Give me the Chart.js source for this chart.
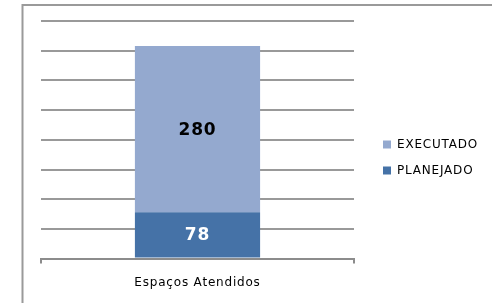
<!DOCTYPE html>
<html>
<head>
<meta charset="utf-8">
<script src="https://cdn.jsdelivr.net/npm/chart.js@4.4.0/dist/chart.umd.min.js"></script>
<style>
  html, body { margin: 0; padding: 0; background: #fff; overflow: hidden; }
  #wrap { width: 492px; height: 303px; position: relative; }
  canvas { display: block; }
</style>
</head>
<body>
<div id="wrap"><canvas id="chart"></canvas></div>
<script>
    // data
    const categories = ['Espaços Atendidos'];
    const planejado = [78];
    const executado = [280];
    const yTicks = [0, 50, 100, 150, 200, 250, 300, 350, 400];

    // frame round the chart, only top and left edges show
    const framePlugin = {
        id: 'frame',
        beforeDraw(chart) {
            const ctx = chart.ctx;
            ctx.save();
            ctx.strokeStyle = '#9a9a9a';
            ctx.lineWidth = 2;
            ctx.beginPath();
            ctx.moveTo(22.5, 310);
            ctx.lineTo(22.5, 5);
            ctx.lineTo(500, 5);
            ctx.stroke();
            ctx.restore();
            ctx.letterSpacing = '0.8px';
        }
    };

    // legend column is wider than its text, items sit a bit in from the plot
    const legendBox = {
        id: 'legendBox',
        beforeLayout(chart) {
            const lg = chart.legend;
            if (lg && !lg._wrapped) {
                const fit = lg.fit;
                lg.fit = function () {
                    fit.call(this);
                    this.width = 132;
                };
                lg._wrapped = true;
            }
        },
        afterLayout(chart) {
            chart.legend.left += 15;
            chart.legend.right += 15;
            chart.legend.top -= 7;
            chart.legend.bottom -= 1;
        }
    };

    // value labels in the middle of each bar piece
    const valueLabels = {
        id: 'valueLabels',
        afterDatasetsDraw(chart) {
            const ctx = chart.ctx;
            ctx.save();
            ctx.font = 'bold 17px "DejaVu Sans"';
            ctx.textAlign = 'center';
            ctx.textBaseline = 'middle';
            chart.data.datasets.forEach((ds, i) => {
                const meta = chart.getDatasetMeta(i);
                meta.data.forEach((bar, j) => {
                    const mid = (bar.y + bar.base) / 2;
                    ctx.fillStyle = i === 0 ? '#ffffff' : '#000000';
                    ctx.fillText(ds.data[j], bar.x, mid + 1);
                });
            });
            ctx.restore();
        }
    };

    const ctx = document.getElementById('chart').getContext('2d');
    new Chart(ctx, {
        type: 'bar',
        data: {
            labels: categories,
            datasets: [
                { label: 'PLANEJADO', data: planejado, backgroundColor: '#4572a7' },
                { label: 'EXECUTADO', data: executado, backgroundColor: '#94a9cf' }
            ]
        },
        options: {
            responsive: true,
            maintainAspectRatio: false,
            animation: false,
            datasets: { bar: { categoryPercentage: 0.4, barPercentage: 1 } },
            layout: { padding: { left: 41, top: 21, right: 6, bottom: 1 } },
            plugins: {
                tooltip: { enabled: false },
                legend: {
                    position: 'right',
                    reverse: true,
                    labels: {
                        boxWidth: 8,
                        boxHeight: 8,
                        padding: 14,
                        color: '#000',
                        font: { family: 'DejaVu Sans', size: 12 }
                    }
                }
            },
            scales: {
                x: {
                    stacked: true,
                    offset: true,
                    grid: { display: true, drawOnChartArea: false, color: '#8c8c8c', lineWidth: 2, tickLength: 5, offset: true },
                    border: { color: '#8c8c8c', width: 2 },
                    ticks: { color: '#000', font: { family: 'DejaVu Sans', size: 12 }, padding: 12 }
                },
                y: {
                    stacked: true,
                    min: yTicks[0],
                    max: yTicks[yTicks.length - 1],
                    afterBuildTicks(scale) { scale.ticks = yTicks.map(v => ({ value: v })); },
                    grid: { color: '#999999', lineWidth: 2, drawTicks: false },
                    border: { display: false },
                    ticks: { display: false }
                }
            }
        },
        plugins: [framePlugin, legendBox, valueLabels]
    });
</script>
</body>
</html>
